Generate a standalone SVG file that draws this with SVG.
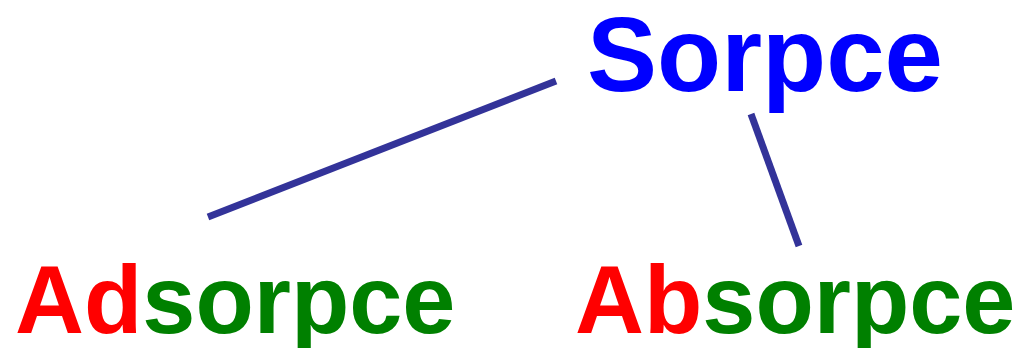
<svg xmlns="http://www.w3.org/2000/svg" width="1023" height="348" viewBox="0 0 1023 348">
<style>
text{font-family:"Liberation Sans",Arial,sans-serif;font-weight:bold}
.red{fill:#ff0000}.green{fill:#008000}.blue{fill:#0000ff}
.conn line{stroke:#333399;stroke-width:7}
</style>
<rect width="1023" height="348" fill="#ffffff"/>
<g id="connectors" class="conn">
<line x1="556" y1="81" x2="208" y2="217"/>
<line x1="751" y1="114" x2="799" y2="246"/>
</g>
<g id="sorpce"><text x="587" y="91" font-size="105" class="blue">Sorpce</text></g>
<g id="adsorpce"><text x="15" y="333" font-size="95.5"><tspan class="red">Ad</tspan><tspan class="green">sorpce</tspan></text></g>
<g id="absorpce"><text x="575" y="333" font-size="95.5"><tspan class="red">Ab</tspan><tspan class="green">sorpce</tspan></text></g>
</svg>
